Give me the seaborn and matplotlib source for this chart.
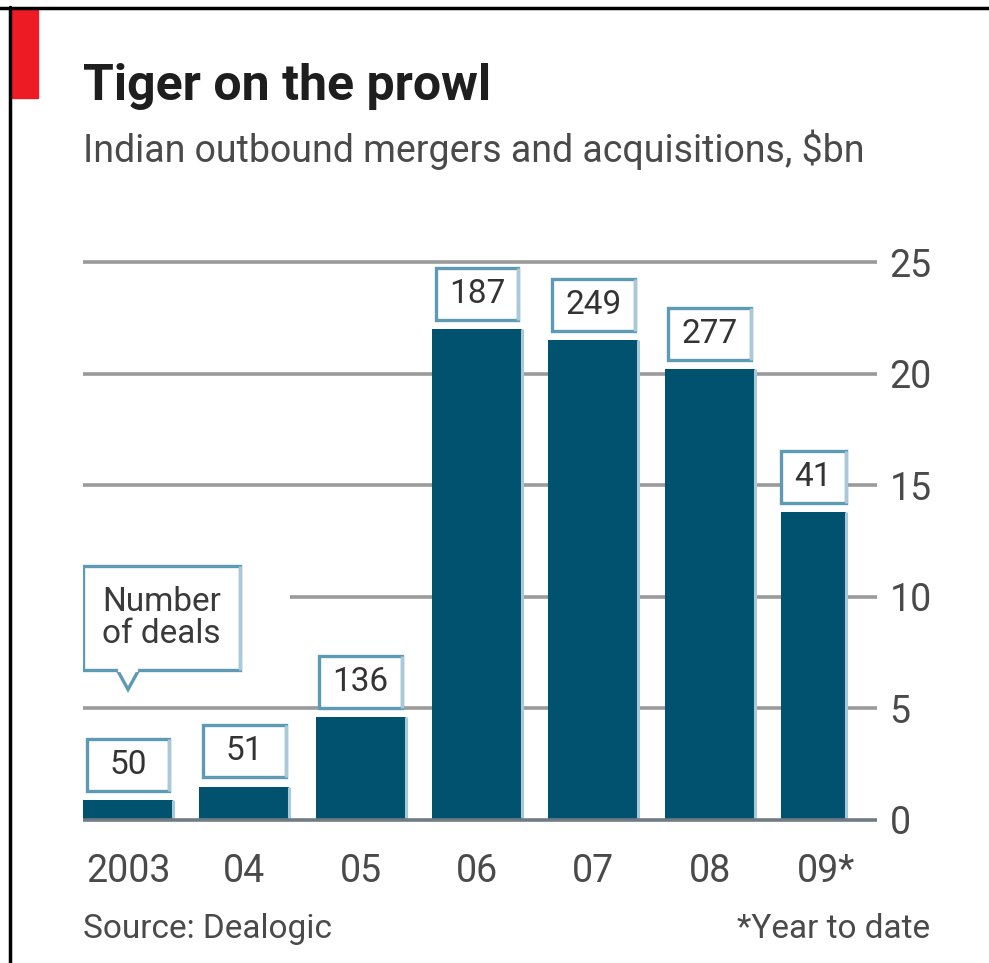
import matplotlib
matplotlib.use("Agg")
import matplotlib.pyplot as plt
import matplotlib.patches as mpatches
from matplotlib.lines import Line2D
import seaborn as sns
import pandas as pd

years = ["2003", "04", "05", "06", "07", "08", "09*"]
values = [0.9, 1.5, 4.6, 22.0, 21.5, 20.2, 13.8]
deals = [50, 51, 136, 187, 249, 277, 41]
yticks = [0, 5, 10, 15, 20, 25]

title = "Tiger on the prowl"
subtitle = "Indian outbound mergers and acquisitions, $bn"
source = "Source: Dealogic"
footnote = "*Year to date"
callout = "Number\nof deals"

sns.set_theme(style="white")
FONT = ["Roboto", "DejaVu Sans"]
plt.rcParams["font.family"] = FONT

BAR = "#00526e"
EDGE = "#5d9ab3"
LIGHT = "#a9c9d9"
GRID = "#9a9a9a"
TXT = "#4a4a4a"

W, H = 989, 963
fig = plt.figure(figsize=(W / 100, H / 100), dpi=100)
ax = fig.add_axes([83 / W, 1 - 820 / H, (877 - 83) / W, (820 - 262) / H])

df = pd.DataFrame({"year": years, "value": values})
sns.barplot(data=df, x="year", y="value", color=BAR, saturation=1, width=0.774,
            ax=ax, zorder=3, linewidth=0)
patches = list(ax.patches)
# last bar (year to date) narrower, left aligned
patches[-1].set_width(0.56)

ax.set_xlim(-0.387, 6.44)
ax.set_ylim(0, 25)

# gridlines
for t in yticks:
    if t == 0:
        continue
    xmin = 1.39 if t == 10 else -0.387
    ax.hlines(t, xmin, 6.44, color=GRID, lw=2.6, zorder=1, clip_on=False)
ax.hlines(0, -0.387, 6.44, color="#6f7c84", lw=2.6, zorder=4, clip_on=False)

# light right edge of bars
for p in patches:
    x = p.get_x() + p.get_width()
    ax.vlines(x, 0, p.get_height(), color=LIGHT, lw=2.2, zorder=3.5)

# value boxes
box_h = 2.33
for p, d in zip(patches, deals):
    bw = min(0.71, p.get_width())
    cx = p.get_x() + p.get_width() / 2
    y0 = p.get_height() + 0.42
    rect = mpatches.Rectangle((cx - bw / 2, y0), bw, box_h, facecolor="white",
                              edgecolor=EDGE, lw=2.4, zorder=5)
    ax.add_patch(rect)
    ax.vlines(cx + bw / 2, y0, y0 + box_h, color=LIGHT, lw=2.4, zorder=5.5)
    ax.text(cx, y0 + box_h / 2, str(d), ha="center", va="center",
            fontsize=24, color="#333333", zorder=6)

# callout box
cx0 = patches[0].get_x()
cb = mpatches.Rectangle((cx0, 6.7), 1.35, 4.7, facecolor="white", edgecolor=EDGE,
                        lw=2.4, zorder=5)
ax.add_patch(cb)
ax.vlines(cx0 + 1.35, 6.7, 11.4, color=LIGHT, lw=2.4, zorder=5.5)
pc = patches[0].get_x() + patches[0].get_width() / 2
ax.add_patch(mpatches.Polygon([(pc - 0.09, 6.7), (pc, 5.85), (pc + 0.09, 6.7)],
                              closed=False, facecolor="white", edgecolor=EDGE,
                              lw=2.4, zorder=5.6))
ax.hlines(6.7, pc - 0.085, pc + 0.085, color="white", lw=3, zorder=5.7)
ax.text(cx0 + 0.675, 9.05, callout, ha="center", va="center", fontsize=24,
        color="#3a3a3a", linespacing=1.0, zorder=6)

# axes styling
for s in ax.spines.values():
    s.set_visible(False)
ax.yaxis.tick_right()
ax.set_yticks(yticks)
ax.set_yticklabels([str(t) for t in yticks])
ax.tick_params(axis="y", length=0, pad=9, labelsize=27, labelcolor=TXT)
ax.tick_params(axis="x", length=0, pad=24, labelsize=27, labelcolor=TXT)
ax.set_xlabel("")
ax.set_ylabel("")
ax.grid(False)

# texts
fig.text(83 / W, 1 - 100 / H, title, fontsize=36, fontweight="bold",
         color="#1e1e1e", ha="left", va="baseline")
fig.text(83 / W, 1 - 162 / H, subtitle, fontsize=27, color=TXT,
         ha="left", va="baseline")
fig.text(83 / W, 1 - 938 / H, source, fontsize=24, color=TXT, ha="left",
         va="baseline")
fig.text(930 / W, 1 - 938 / H, footnote, fontsize=24, color=TXT, ha="right",
         va="baseline")

# red tab and black frame
fig.add_artist(mpatches.Rectangle((12 / W, 1 - 98 / H), 26 / W, 88 / H,
                                  transform=fig.transFigure, color="#ed1c24"))
fig.add_artist(Line2D([0, 1], [1 - 8.5 / H, 1 - 8.5 / H], transform=fig.transFigure,
                      color="black", lw=2.5))
fig.add_artist(Line2D([9.5 / W, 9.5 / W], [0, 1 - 7 / H], transform=fig.transFigure,
                      color="black", lw=2.5))

fig.savefig("out.png", dpi=100)
